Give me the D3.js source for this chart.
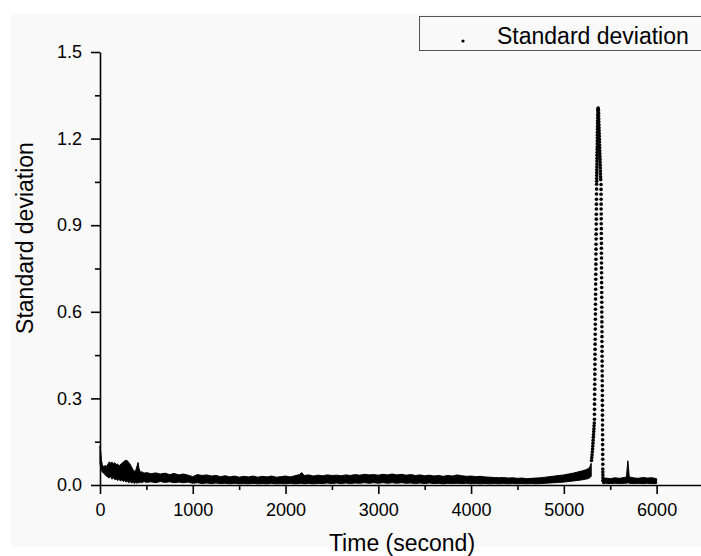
<!DOCTYPE html>
<html>
<head>
<meta charset="utf-8">
<script src="https://cdn.jsdelivr.net/npm/d3@7"></script>
<style>
  body { margin: 0; background: #fff; }
  svg { display: block; font-family: "Liberation Sans", Arial, sans-serif; }
  .axis path, .axis line { stroke: #000; stroke-width: 1.6; }
  .axis text { font-size: 18px; fill: #000; }
</style>
</head>
<body>
<svg class="chart" width="701" height="556"></svg>
<script>
// tick labels
const xTicks = [0, 1000, 2000, 3000, 4000, 5000, 6000];
const xMinor = [500, 1500, 2500, 3500, 4500, 5500, 6500];
const yTicks = [0, 0.3, 0.6, 0.9, 1.2, 1.5];
const yMinor = [0.15, 0.45, 0.75, 1.05, 1.35];

// noisy baseline band, [time, upper edge, lower edge], before the peak
const bandBefore = [
  [0, 0.135, 0.075], [8, 0.115, 0.06], [16, 0.085, 0.05], [25, 0.07, 0.045],
  [40, 0.062, 0.04], [55, 0.068, 0.036], [70, 0.064, 0.03], [85, 0.072, 0.028],
  [100, 0.08, 0.024], [115, 0.076, 0.03], [130, 0.079, 0.02], [145, 0.074, 0.026],
  [160, 0.077, 0.018], [175, 0.07, 0.022], [190, 0.073, 0.015], [205, 0.066, 0.02],
  [220, 0.071, 0.014], [235, 0.075, 0.018], [250, 0.079, 0.012], [265, 0.083, 0.016],
  [280, 0.086, 0.01], [295, 0.084, 0.014], [310, 0.078, 0.008], [325, 0.072, 0.012],
  [340, 0.062, 0.007], [355, 0.054, 0.01], [370, 0.048, 0.005], [385, 0.05, 0.009],
  [400, 0.066, 0.006], [410, 0.078, 0.01], [420, 0.058, 0.007], [435, 0.044, 0.01],
  [450, 0.046, 0.008], [475, 0.041, 0.012], [500, 0.043, 0.009], [550, 0.039, 0.011],
  [600, 0.042, 0.008], [650, 0.038, 0.012], [700, 0.041, 0.009], [750, 0.036, 0.011],
  [800, 0.04, 0.008], [850, 0.035, 0.01], [900, 0.038, 0.008], [950, 0.034, 0.01],
  [1000, 0.029, 0.006], [1050, 0.036, 0.008], [1100, 0.033, 0.005], [1150, 0.035, 0.007],
  [1200, 0.031, 0.005], [1250, 0.033, 0.007], [1300, 0.029, 0.005], [1350, 0.032, 0.006],
  [1400, 0.028, 0.004], [1450, 0.031, 0.006], [1500, 0.027, 0.004], [1550, 0.03, 0.005],
  [1600, 0.028, 0.004], [1650, 0.031, 0.006], [1700, 0.027, 0.004], [1750, 0.03, 0.005],
  [1800, 0.028, 0.004], [1850, 0.031, 0.006], [1900, 0.027, 0.004], [1950, 0.029, 0.005],
  [2000, 0.031, 0.004], [2050, 0.028, 0.006], [2100, 0.032, 0.004], [2150, 0.036, 0.005],
  [2175, 0.043, 0.006], [2200, 0.033, 0.004], [2250, 0.035, 0.006], [2300, 0.031, 0.004],
  [2350, 0.034, 0.006], [2400, 0.032, 0.005], [2450, 0.035, 0.007], [2500, 0.033, 0.005],
  [2550, 0.034, 0.007], [2600, 0.032, 0.005], [2650, 0.035, 0.007], [2700, 0.033, 0.005],
  [2750, 0.036, 0.007], [2800, 0.034, 0.006], [2850, 0.037, 0.008], [2900, 0.035, 0.006],
  [2950, 0.036, 0.008], [3000, 0.034, 0.006], [3050, 0.037, 0.008], [3100, 0.035, 0.006],
  [3150, 0.038, 0.008], [3200, 0.035, 0.006], [3250, 0.037, 0.008], [3300, 0.034, 0.006],
  [3350, 0.036, 0.007], [3400, 0.033, 0.005], [3450, 0.035, 0.007], [3500, 0.032, 0.005],
  [3550, 0.034, 0.007], [3600, 0.031, 0.005], [3650, 0.033, 0.006], [3700, 0.03, 0.004],
  [3750, 0.033, 0.006], [3800, 0.031, 0.005], [3850, 0.035, 0.006], [3900, 0.032, 0.005],
  [3950, 0.03, 0.006], [4000, 0.031, 0.004], [4050, 0.029, 0.005], [4100, 0.03, 0.004],
  [4150, 0.028, 0.005], [4200, 0.027, 0.004], [4250, 0.026, 0.005], [4300, 0.025, 0.004],
  [4350, 0.026, 0.005], [4400, 0.024, 0.004], [4450, 0.025, 0.005], [4500, 0.023, 0.004],
  [4550, 0.024, 0.005], [4600, 0.022, 0.004], [4650, 0.023, 0.005], [4700, 0.024, 0.004],
  [4750, 0.025, 0.005], [4800, 0.027, 0.006], [4850, 0.029, 0.007], [4900, 0.031, 0.008],
  [4950, 0.033, 0.009], [5000, 0.035, 0.01], [5050, 0.038, 0.012], [5100, 0.041, 0.014],
  [5150, 0.045, 0.016], [5200, 0.049, 0.018], [5230, 0.052, 0.02], [5260, 0.056, 0.022],
  [5280, 0.062, 0.025], [5295, 0.075, 0.03]
];

// baseline band after the peak, same layout
const bandAfter = [
  [5418, 0.022, 0.005], [5450, 0.024, 0.006], [5500, 0.022, 0.005], [5550, 0.025, 0.006],
  [5600, 0.023, 0.005], [5650, 0.026, 0.006], [5675, 0.028, 0.006], [5683, 0.06, 0.007],
  [5690, 0.084, 0.008], [5697, 0.06, 0.007], [5705, 0.028, 0.006], [5750, 0.025, 0.005],
  [5800, 0.023, 0.006], [5850, 0.026, 0.005], [5900, 0.024, 0.006], [5950, 0.025, 0.005],
  [6000, 0.022, 0.005]
];

// rising side of the peak, [time, value]
const peakRise = [
  [5298, 0.085], [5301, 0.095], [5304, 0.105], [5307, 0.115], [5310, 0.125], [5312, 0.135],
  [5314, 0.145], [5316, 0.155], [5318, 0.165], [5320, 0.175], [5322, 0.185], [5324, 0.195],
  [5326, 0.205], [5328, 0.215],
  [5330, 0.228], [5330, 0.245], [5331, 0.262], [5331, 0.28], [5332, 0.297], [5332, 0.314],
  [5333, 0.332], [5333, 0.349], [5334, 0.366], [5334, 0.384], [5335, 0.401], [5335, 0.418],
  [5336, 0.436], [5336, 0.453], [5337, 0.47], [5337, 0.488], [5338, 0.505], [5338, 0.522],
  [5339, 0.54], [5339, 0.557], [5340, 0.574], [5340, 0.592], [5341, 0.609], [5341, 0.626],
  [5342, 0.644], [5342, 0.661], [5343, 0.678], [5343, 0.696], [5344, 0.713], [5344, 0.73],
  [5345, 0.748], [5345, 0.765], [5346, 0.782], [5346, 0.8], [5347, 0.817], [5347, 0.834],
  [5348, 0.852], [5348, 0.869], [5349, 0.886], [5349, 0.904], [5350, 0.921], [5350, 0.938],
  [5351, 0.956], [5351, 0.973], [5352, 0.99], [5352, 1.008], [5353, 1.025], [5353, 1.042],
  [5354, 1.052], [5354, 1.062], [5355, 1.072], [5355, 1.082], [5356, 1.092], [5356, 1.102],
  [5357, 1.112], [5357, 1.122], [5358, 1.132], [5358, 1.142], [5359, 1.152], [5359, 1.162],
  [5360, 1.172], [5360, 1.182], [5361, 1.192], [5361, 1.202], [5362, 1.212], [5362, 1.222],
  [5363, 1.232], [5363, 1.242], [5364, 1.252], [5364, 1.262], [5365, 1.272], [5365, 1.282],
  [5366, 1.292], [5367, 1.302], [5370, 1.306]
];

// falling side of the peak
const peakFall = [
  [5373, 1.298], [5374, 1.288], [5375, 1.278], [5376, 1.268], [5377, 1.258], [5378, 1.248],
  [5379, 1.238], [5380, 1.228], [5381, 1.218], [5382, 1.208], [5383, 1.198], [5384, 1.188],
  [5385, 1.178], [5386, 1.168], [5387, 1.158], [5388, 1.148], [5389, 1.138], [5390, 1.128],
  [5391, 1.118], [5392, 1.108], [5393, 1.098], [5394, 1.088], [5395, 1.078], [5396, 1.068],
  [5397, 1.058],
  [5401, 1.041], [5401, 1.024], [5401, 1.007], [5402, 0.99], [5402, 0.973], [5402, 0.956],
  [5403, 0.939], [5403, 0.922], [5403, 0.905], [5404, 0.888], [5404, 0.871], [5404, 0.854],
  [5405, 0.837], [5405, 0.82], [5405, 0.803], [5406, 0.786], [5406, 0.769], [5406, 0.752],
  [5407, 0.735], [5407, 0.718], [5407, 0.701], [5408, 0.684], [5408, 0.667], [5408, 0.65],
  [5409, 0.633], [5409, 0.616], [5409, 0.599], [5410, 0.582], [5410, 0.565], [5410, 0.548],
  [5411, 0.531], [5411, 0.514], [5411, 0.497], [5412, 0.48], [5412, 0.463], [5412, 0.446],
  [5413, 0.429], [5413, 0.412], [5413, 0.395], [5414, 0.378], [5414, 0.361], [5414, 0.344],
  [5415, 0.327], [5415, 0.31], [5415, 0.293], [5416, 0.276], [5416, 0.259], [5416, 0.242],
  [5417, 0.225], [5417, 0.208], [5417, 0.191], [5418, 0.174], [5418, 0.157], [5418, 0.14],
  [5419, 0.123], [5419, 0.106], [5419, 0.089], [5420, 0.072], [5420, 0.055], [5420, 0.045],
  [5421, 0.035], [5421, 0.025], [5421, 0.015]
];

const seriesName = "Standard deviation";

(function drawChart() {
  const svg = d3.select("svg.chart");

  // light grey page panel behind the plot
  svg.append("rect")
    .attr("x", 11).attr("y", 14)
    .attr("width", 690).attr("height", 533)
    .attr("fill", "#f9f9f9");

  const x = d3.scaleLinear().domain([0, 6500]).range([100, 703]);
  const y = d3.scaleLinear().domain([0, 1.5]).range([485, 52]);

  // band of overlapping points
  const area = d3.area()
    .x(d => x(d[0]))
    .y0(d => y(d[2]))
    .y1(d => y(d[1]));

  [bandBefore, bandAfter].forEach(function(band) {
    svg.append("path")
      .datum(band)
      .attr("d", area)
      .attr("fill", "#000")
      .attr("stroke", "#000")
      .attr("stroke-width", 1)
      .attr("stroke-linejoin", "round");
  });

  svg.append("g")
    .selectAll("circle")
    .data(peakRise.concat(peakFall))
    .enter()
    .append("circle")
    .attr("cx", d => x(d[0]))
    .attr("cy", d => y(d[1]))
    .attr("r", 1.8)
    .attr("fill", "#000");

  // minor ticks first, then major axes on top
  svg.append("g")
    .attr("class", "axis")
    .attr("transform", "translate(0,485)")
    .call(d3.axisBottom(x).tickValues(xMinor).tickSize(5).tickFormat(""))
    .select(".domain").remove();

  svg.append("g")
    .attr("class", "axis")
    .attr("transform", "translate(100,0)")
    .call(d3.axisLeft(y).tickValues(yMinor).tickSize(5).tickFormat(""))
    .select(".domain").remove();

  const xAxis = svg.append("g")
    .attr("class", "axis")
    .attr("transform", "translate(0,485)")
    .call(d3.axisBottom(x).tickValues(xTicks).tickSize(9).tickSizeOuter(0).tickPadding(9)
      .tickFormat(d3.format("d")));
  xAxis.selectAll("text").attr("dy", "0.71em");

  svg.append("g")
    .attr("class", "axis")
    .attr("transform", "translate(100,0)")
    .call(d3.axisLeft(y).tickValues(yTicks).tickSize(9).tickSizeOuter(0).tickPadding(9)
      .tickFormat(d3.format(".1f")));

  // axis titles
  svg.append("text")
    .attr("x", 402)
    .attr("y", 551)
    .attr("text-anchor", "middle")
    .style("font-size", "23px")
    .text("Time (second)");

  svg.append("text")
    .attr("transform", "translate(33,238) rotate(-90)")
    .attr("text-anchor", "middle")
    .style("font-size", "23px")
    .text(seriesName);

  // legend
  const legend = svg.append("g");
  legend.append("rect")
    .attr("x", 419.5).attr("y", 16.5)
    .attr("width", 300).attr("height", 34)
    .attr("fill", "#f9f9f9")
    .attr("stroke", "#555")
    .attr("stroke-width", 1);
  legend.append("circle")
    .attr("cx", 463).attr("cy", 41)
    .attr("r", 1.6)
    .attr("fill", "#000");
  legend.append("text")
    .attr("x", 497)
    .attr("y", 44)
    .style("font-size", "23px")
    .text(seriesName);
})();
</script>
</body>
</html>
